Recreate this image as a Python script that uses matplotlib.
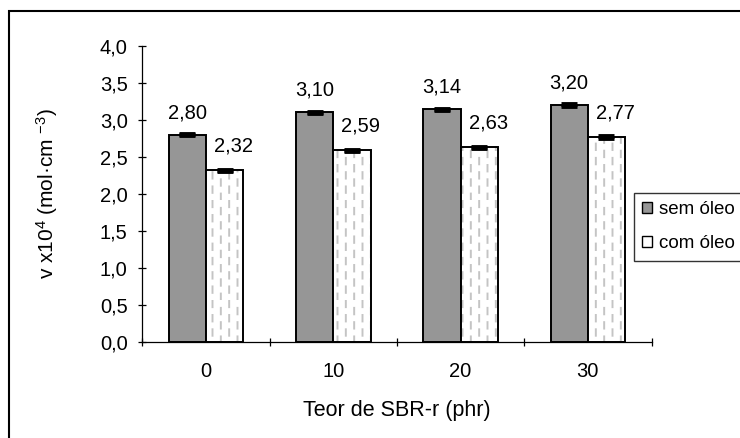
import matplotlib
matplotlib.use('Agg')
import matplotlib.pyplot as plt
import matplotlib.hatch as mhatch
from matplotlib.path import Path
from matplotlib.patches import Patch, Rectangle
import numpy as np

# dados
teor = ['0', '10', '20', '30']
sem_oleo = [2.80, 3.10, 3.14, 3.20]
com_oleo = [2.32, 2.59, 2.63, 2.77]
err_sem = [0.01, 0.01, 0.01, 0.01]
err_com = [0.01, 0.01, 0.01, 0.01]
yticks = [0.0, 0.5, 1.0, 1.5, 2.0, 2.5, 3.0, 3.5, 4.0]

plt.rcParams['font.family'] = ['Liberation Sans', 'DejaVu Sans']
plt.rcParams['mathtext.default'] = 'regular'
plt.rcParams['hatch.linewidth'] = 1.4


# hachura vertical tracejada (estilo Excel)
class DashedVertical(mhatch.HatchPatternBase):
    def __init__(self, hatch, density):
        self.num_cols = (hatch.count('|') + hatch.count('+')) * density
        self.num_dash = 7
        self.num_vertices = self.num_cols * self.num_dash * 2

    def set_vertices_and_codes(self, vertices, codes):
        step = 1.0 / self.num_dash
        k = 0
        for i in range(self.num_cols):
            xc = (i + 0.5) / self.num_cols
            off = (i % 2) * step / 2
            for j in range(self.num_dash):
                y0 = j * step + off
                vertices[k] = (xc, y0)
                vertices[k + 1] = (xc, y0 + step * 0.45)
                codes[k] = Path.MOVETO
                codes[k + 1] = Path.LINETO
                k += 2


mhatch._hatch_types = [DashedVertical if t is mhatch.VerticalHatch else t
                       for t in mhatch._hatch_types]

fig = plt.figure(figsize=(7.4, 4.38), dpi=100)
ax = fig.add_axes([142.3/740, 1-342.3/438, (651.5-142.3)/740, (342.3-45.7)/438])

x = np.arange(len(teor))
w = 0.293
cinza = '#969696'

ax.bar(x - w/2, sem_oleo, w, color=cinza, edgecolor='black', linewidth=1.4, zorder=2)
ax.bar(x + w/2, com_oleo, w, color='white', edgecolor='#c4c4c4', linewidth=0,
       hatch='||', zorder=2)
ax.bar(x + w/2, com_oleo, w, fill=False, edgecolor='black', linewidth=1.4, zorder=2)

ax.errorbar(x - w/2, sem_oleo, yerr=err_sem, fmt='none', ecolor='black',
            elinewidth=3, capsize=6, capthick=3.5, zorder=3)
ax.errorbar(x + w/2, com_oleo, yerr=err_com, fmt='none', ecolor='black',
            elinewidth=3, capsize=6, capthick=3.5, zorder=3)

for xi, v in zip(x - w/2, sem_oleo):
    ax.annotate(f'{v:.2f}'.replace('.', ','), (xi, v), xytext=(0, 12),
                textcoords='offset points', ha='center', va='baseline', fontsize=14.5)
for xi, v in zip(x + w/2, com_oleo):
    ax.annotate(f'{v:.2f}'.replace('.', ','), (xi, v), xytext=(6.5, 13.5),
                textcoords='offset points', ha='center', va='baseline', fontsize=14.5)

ax.set_xlim(-0.5, len(teor) - 0.5)
ax.set_ylim(0, 4)
ax.set_yticks(yticks)
ax.set_yticklabels([f'{t:.1f}'.replace('.', ',') for t in yticks])
ax.set_xticks(np.arange(-0.5, len(teor), 1))
ax.set_xticklabels([])
ax.set_xticks(x, minor=True)
ax.set_xticklabels(teor, minor=True)

for s in ['top', 'right']:
    ax.spines[s].set_visible(False)
for s in ['left', 'bottom']:
    ax.spines[s].set_linewidth(0.9)
ax.tick_params(axis='both', which='major', direction='inout', length=6, width=0.9,
               labelsize=14.5)
ax.tick_params(axis='y', pad=7.5)
ax.tick_params(axis='x', which='minor', length=0, pad=14, labelsize=14.5)

ax.set_xlabel('Teor de SBR-r (phr)', fontsize=15.5, labelpad=14)
fig.text(47/740, 1 - 194/438, 'v x10$^4$ (mol·cm $^{-3}$)', rotation=90,
         ha='center', va='center', fontsize=15)

handles = [Patch(facecolor=cinza, edgecolor='black', label='sem óleo'),
           Patch(facecolor='white', edgecolor='black', label='com óleo')]
leg = fig.legend(handles=handles, loc='upper left',
                 bbox_to_anchor=(634/740, 1 - 193/438), frameon=True, fancybox=False,
                 edgecolor='black', fontsize=13.5, handlelength=0.5, handleheight=0.5,
                 handletextpad=0.4, labelspacing=0.9, borderpad=0.45, borderaxespad=0)
leg.get_frame().set_linewidth(1.0)

# moldura externa (cortada a direita e embaixo)
fig.add_artist(Rectangle((8.7/740, -0.2), 1.5, 1.2 - 11/438, transform=fig.transFigure,
                         fill=False, edgecolor='black', linewidth=1.5))

fig.savefig('out.png', dpi=100)
